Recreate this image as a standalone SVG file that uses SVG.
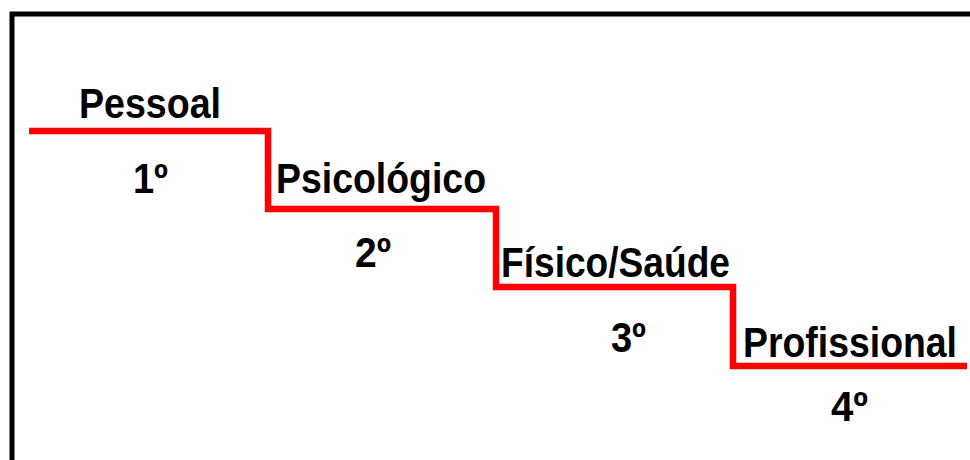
<svg xmlns="http://www.w3.org/2000/svg" width="970" height="460" viewBox="0 0 970 460">
<style>
.lbl{font-family:"Liberation Sans",Arial,sans-serif;font-weight:bold;font-size:42px;fill:#000}
.frame{fill:none;stroke:#000;stroke-width:5}
.step{fill:none;stroke:#ff0000;stroke-width:6.5;stroke-linejoin:miter}
</style>
<rect width="970" height="460" fill="#fff"/>
<path class="frame" d="M12 462 V14 H972"/>
<g id="connectors">
<path class="step" d="M29 131 H268 V209 H496 V287 H733 V366 H967"/>
</g>
<g id="pessoal"><text class="lbl" x="79" y="118" textLength="142" lengthAdjust="spacingAndGlyphs">Pessoal</text></g>
<g id="n1"><text class="lbl" x="133" y="193" textLength="35" lengthAdjust="spacingAndGlyphs">1º</text></g>
<g id="psicologico"><text class="lbl" x="276" y="193" textLength="210" lengthAdjust="spacingAndGlyphs">Psicológico</text></g>
<g id="n2"><text class="lbl" x="355" y="267" textLength="36" lengthAdjust="spacingAndGlyphs">2º</text></g>
<g id="fisico"><text class="lbl" x="501" y="277" textLength="229" lengthAdjust="spacingAndGlyphs">Físico/Saúde</text></g>
<g id="n3"><text class="lbl" x="611" y="352" textLength="35" lengthAdjust="spacingAndGlyphs">3º</text></g>
<g id="profissional"><text class="lbl" x="743" y="357" textLength="214" lengthAdjust="spacingAndGlyphs">Profissional</text></g>
<g id="n4"><text class="lbl" x="831" y="421" textLength="37" lengthAdjust="spacingAndGlyphs">4º</text></g>
</svg>
